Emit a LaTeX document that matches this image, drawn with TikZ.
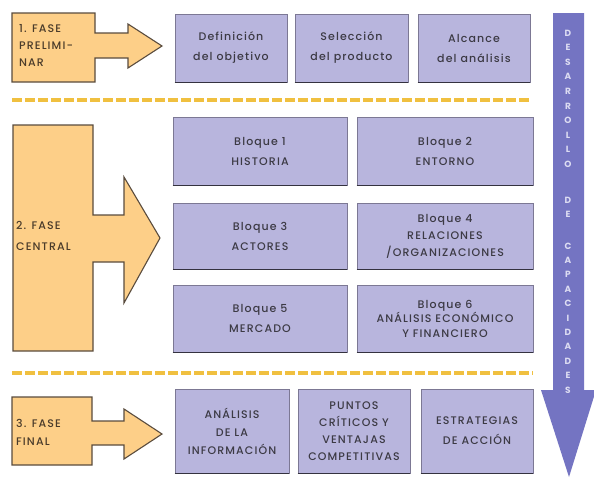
\documentclass[tikz,border=0pt]{standalone}
\usepackage{fontspec}
\setmainfont{Poppins}
\newfontfamily\boxfont{Poppins}[LetterSpace=10,UprightFont=* Medium,BoldFont=* Bold]
\newfontfamily\letfont{Poppins}[UprightFont=* Bold]
\definecolor{orfill}{HTML}{FDCF88}
\definecolor{oredge}{HTML}{5A4C3E}
\definecolor{pfill}{HTML}{B8B5DD}
\definecolor{pedge}{HTML}{7C7894}
\definecolor{pshadow}{HTML}{34323F}
\definecolor{varrow}{HTML}{7474C2}
\definecolor{vletter}{HTML}{DCDCF2}
\definecolor{dashcol}{HTML}{F0C040}
\definecolor{txt}{HTML}{3C3A44}
\definecolor{otxt}{HTML}{4A3B2A}
\tikzset{
  phaseshape/.style={fill=orfill, draw=oredge, line width=1.1pt, line join=miter},
  pbox/.style={rectangle, fill=pfill, draw=pedge, line width=0.7pt, align=center,
    text=txt, inner sep=1pt, font=\boxfont\fontsize{11}{20}\selectfont},
  ls/.style={font=\boxfont\fontsize{11}{#1}\selectfont},
  phasetext/.style={align=left, text=otxt, anchor=west, inner sep=0pt,
    font=\boxfont\fontsize{11}{17}\selectfont},
  sepline/.style={draw=dashcol, line width=3.5pt, dash pattern=on 10pt off 3pt},
  vlet/.style={text=vletter, font=\letfont\fontsize{9}{9}\selectfont, inner sep=0pt}
}
\begin{document}
\begin{tikzpicture}[x=1pt,y=-1pt]
\useasboundingbox (0,0) rectangle (594,479);
\fill[white] (0,0) rectangle (594,479);

% separators
\coordinate (s1a) at (12,100); \coordinate (s1b) at (531,100);
\coordinate (s2a) at (12,373); \coordinate (s2b) at (533,373);
\draw[sepline] (s1a) -- (s1b);
\draw[sepline] (s2a) -- (s2b);

% vertical arrow
\fill[varrow] (553,13) -- (584,13) -- (584,390) -- (596,390) -- (569,477)
  -- (541,390) -- (553,390) -- cycle;
\foreach \l [count=\i from 0] in {D,E,S,A,R,R,O,L,L,O}
  \node[vlet] (va\i) at (568,{33+\i*14.6}) {\l};
\foreach \l [count=\i from 0] in {D,E}
  \node[vlet] (vb\i) at (568,{200+\i*14.6}) {\l};
\foreach \l [count=\i from 0] in {C,A,P,A,C,I,D,A,D,E,S}
  \node[vlet] (vc\i) at (568,{246+\i*14.4}) {\l};

% phase 1 shape
\draw[phaseshape] (12,13) -- (95,13) -- (95,33) -- (128,33) -- (128,24) -- (162,46)
  -- (128,68) -- (128,58) -- (95,58) -- (95,82) -- (12,82) -- cycle;
\node[phasetext] (f1) at (19,45) {1. FASE\\PRELIMI-\\NAR};

% phase 2 shape
\draw[phaseshape] (13,125) -- (93,125) -- (93,215) -- (124,215) -- (124,177) -- (160,238)
  -- (124,303) -- (124,262) -- (93,262) -- (93,351) -- (13,351) -- cycle;
\node[phasetext, font=\boxfont\fontsize{11}{21}\selectfont] (f2) at (16,236) {2. FASE\\CENTRAL};

% phase 3 shape
\draw[phaseshape] (12,397) -- (92,397) -- (92,421) -- (124,421) -- (124,409) -- (162,434)
  -- (124,459) -- (124,445) -- (92,445) -- (92,465) -- (12,465) -- cycle;
\node[phasetext, font=\boxfont\fontsize{11}{18}\selectfont] (f3) at (16,432) {3. FASE\\FINAL};

% phase 1 boxes
\node[pbox, minimum width=112pt, minimum height=68pt] (p11) at (231,48) {Definición\\del objetivo};
\node[pbox, minimum width=113pt, minimum height=68pt] (p12) at (351.5,48) {Selección\\del producto};
\node[pbox, minimum width=112pt, minimum height=68pt] (p13) at (474,48) {Alcance\\del análisis};

% phase 2 boxes
\node[pbox, minimum width=174pt, minimum height=68pt] (b1) at (260,151) {Bloque 1\\HISTORIA};
\node[pbox, minimum width=176pt, minimum height=68pt] (b2) at (445,151) {Bloque 2\\ENTORNO};
\node[pbox, minimum width=174pt, minimum height=66pt] (b3) at (260,236) {Bloque 3\\ACTORES};
\node[pbox, ls=17, minimum width=176pt, minimum height=66pt] (b4) at (445,236) {Bloque 4\\RELACIONES\\/ORGANIZACIONES};
\node[pbox, minimum width=174pt, minimum height=67pt] (b5) at (260,318.5) {Bloque 5\\MERCADO};
\node[pbox, ls=14.5, minimum width=176pt, minimum height=67pt] (b6) at (445,318.5) {Bloque 6\\ANÁLISIS ECONÓMICO\\Y FINANCIERO};

% phase 3 boxes
\node[pbox, ls=18, minimum width=114pt, minimum height=84pt] (p31) at (232,431) {ANÁLISIS\\DE LA\\INFORMACIÓN};
\node[pbox, ls=17, minimum width=112pt, minimum height=84pt] (p32) at (354,431) {PUNTOS\\CRÍTICOS Y\\VENTAJAS\\COMPETITIVAS};
\node[pbox, minimum width=112pt, minimum height=84pt] (p33) at (477,431) {ESTRATEGIAS\\DE ACCIÓN};

% bottom shadow edges
\foreach \n in {p11,p12,p13,b1,b2,b3,b4,b5,b6,p31,p32,p33}
  \draw[pshadow, line width=1.6pt] (\n.south west) -- (\n.south east);
\end{tikzpicture}
\end{document}
